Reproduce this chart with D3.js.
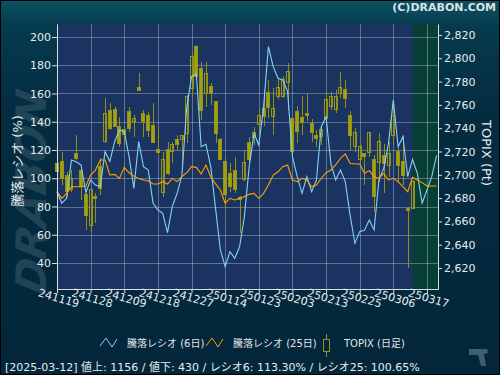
<!DOCTYPE html>
<html>
<head>
<meta charset="utf-8">
<script src="https://cdn.jsdelivr.net/npm/d3@7"></script>
<style>
  body { margin: 0; background: #03263a; }
  svg text { font-family: "DejaVu Sans", "Noto Sans CJK JP", sans-serif; }
</style>
</head>
<body>
<div id="chart"></div>
<script>
// trading days (yymmdd)
const dates = ['241119','241120','241121','241122','241125','241126','241127','241128','241129',
  '241202','241203','241204','241205','241206','241209','241210','241211','241212','241213',
  '241216','241217','241218','241219','241220','241223','241224','241225','241226','241227','241230',
  '250106','250107','250108','250109','250110','250114','250115','250116','250117',
  '250120','250121','250122','250123','250124','250127','250128','250129','250130','250131',
  '250203','250204','250205','250206','250207','250210','250212','250213','250214',
  '250217','250218','250219','250220','250221','250225','250226','250227','250228',
  '250303','250304','250305','250306','250307','250310','250311','250312','250313','250314',
  '250317','250318','250319']

// 騰落レシオ 6日 (%)
const ratio6 = [90.5,82.3,85.8,112.9,111.7,109.4,90,98.8,95.2,94,
  118.8,112,125.9,134.2,133,115.3,92.8,125.9,108.2,105.8,
  82.3,77.6,75.2,61.5,80,89.3,102,150,172,174,
  122.3,124,108.2,78.7,49.2,37.4,48,43.3,51.5,72.8,
  108.2,131.8,123.5,150.7,193.2,179,170.8,169.6,161.3,115.3,
  101.1,89.3,101.1,90.5,98.8,136.5,143.6,110.6,98.8,105.8,
  97.6,74,53.9,62.2,63.4,70.4,63.4,98.8,107,124.7,
  155.4,122.3,129.4,101.1,113.3,103.5,82.3,91.7,101.1,116]

// 騰落レシオ 25日 (%)
const ratio25 = [90.5,85.8,89.3,94,94,94,94.5,102.3,105.8,112.9,
  112.9,102.3,102.7,99.9,107.7,103.9,101.5,99.9,98.8,98,
  95.9,95.9,97.6,95.9,99.9,97.6,101.1,104,108.2,107.7,
  103,109.4,101.1,96,91.7,82.3,85.8,84.6,85.8,87,
  88.6,89.3,85.8,89.3,95.2,102.3,104.6,108.2,109.4,98.8,
  97.6,100,98.8,94,95.2,100,103.9,105.8,109.4,114.1,
  117.2,110.6,110.1,110.1,103.5,105.4,101.1,100,103.5,98.8,
  100,97.6,94,90.5,100.65,98.8,96.9,94.5,94.5,94.5]

// TOPIX daily OHLC (Pt)
const topixOpen = [2709.8,2711.3,2699.8,2687.0,2717.9,2704.1,2683.5,2656.9,2681.8,2707.0,
  2728.4,2755.6,2756.2,2741.3,2738.5,2754.2,2745.6,2775.1,2752.2,2751.3,
  2741.9,2721.9,2684.7,2721.9,2719.9,2730.7,2730.4,2735.6,2774.2,2810.0,
  2791.4,2769.9,2775.6,2762.8,2730.4,2711.3,2701.3,2704.1,2680.7,2695.6,
  2727.6,2732.2,2742.8,2757.1,2770.8,2749.9,2767.1,2767.1,2779.1,2748.5,
  2754.2,2749.3,2752.8,2743.6,2733.3,2732.7,2748.5,2758.5,2756.2,2769.9,
  2772.8,2751.3,2724.2,2713.3,2717.9,2719.0,2712.7,2710.4,2716.2,2708.4,
  2733.3,2719.9,2711.3,2671.2,2671.2]
const topixHigh = [2715.6,2719.9,2702.7,2704.1,2734.2,2707.0,2684.1,2687.0,2684.1,2714.1,
  2765.6,2761.3,2758.5,2749.9,2741.3,2758.5,2751.3,2787.1,2755.6,2754.2,
  2761.3,2741.3,2719.9,2728.4,2728.4,2734.2,2734.2,2768.5,2804.8,2811.4,
  2797.1,2797.1,2778.5,2763.6,2731.3,2715.6,2709.9,2715.6,2681.8,2721.3,
  2732.2,2741.3,2757.1,2772.8,2781.4,2774.2,2781.9,2784.8,2795.7,2749.3,
  2759.1,2767.6,2769.4,2747.6,2738.5,2740.8,2771.4,2771.4,2772.8,2788.5,
  2781.4,2754.8,2739.9,2727.6,2718.4,2737.0,2717.0,2735.6,2726.4,2728.4,
  2759.9,2722.7,2734.2,2672.6,2695.6]
const topixLow = [2695.5,2691.3,2681.2,2685.5,2712.7,2678.4,2652.6,2651.2,2658.3,2682.7,
  2727.0,2738.5,2741.3,2724.1,2725.6,2737.0,2732.7,2772.5,2732.7,2732.7,
  2727.0,2718.4,2681.2,2699.8,2709.8,2721.3,2707.0,2727.0,2767.1,2781.4,
  2747.1,2758.5,2759.9,2727.0,2712.7,2669.8,2685.5,2684.1,2649.8,2695.0,
  2711.3,2725.6,2735.6,2741.9,2748.5,2734.2,2764.8,2765.6,2755.6,2719.0,
  2727.0,2734.2,2746.5,2728.5,2724.2,2725.6,2741.3,2755.6,2752.8,2765.6,
  2757.1,2721.3,2719.9,2709.9,2691.3,2715.6,2668.4,2694.1,2684.1,2698.4,
  2725.6,2692.7,2691.3,2619.7,2671.2]
const topixClose = [2702.7,2697.0,2685.5,2697.0,2714.1,2689.8,2665.5,2687.0,2679.8,2688.4,
  2752.8,2739.9,2741.3,2727.0,2734.2,2739.9,2748.5,2772.5,2745.6,2737.9,
  2727.6,2719.0,2713.3,2701.3,2726.2,2726.4,2733.3,2767.1,2801.4,2784.2,
  2755.6,2787.1,2769.9,2735.6,2713.3,2682.7,2689.8,2687.0,2678.4,2710.4,
  2713.3,2736.2,2751.3,2749.9,2757.9,2756.5,2775.1,2781.4,2788.5,2719.9,
  2737.0,2744.8,2751.3,2736.2,2731.3,2739.0,2764.8,2767.6,2767.1,2775.1,
  2765.6,2733.3,2736.7,2724.7,2715.6,2736.2,2681.3,2729.0,2709.9,2717.9,
  2751.3,2708.4,2699.8,2669.2,2694.1]

const leftTicks = [40, 60, 80, 100, 120, 140, 160, 180, 200]
const rightTicks = [2620, 2640, 2660, 2680, 2700, 2720, 2740, 2760, 2780, 2800, 2820]
const tickEvery = 7
const selectedDate = '250312'
const footerText = '[2025-03-12]  値上: 1156 / 値下: 430 / レシオ6: 113.30% / レシオ25: 100.65%'

// Dimensions
const width = 500, height = 375
const plot = { left: 57, right: 438, top: 24, bottom: 289 }

const svg = d3.select('#chart').append('svg')
  .attr('width', width).attr('height', height)

const defs = svg.append('defs')
const bg = defs.append('linearGradient').attr('id', 'bg')
  .attr('x1', 0).attr('y1', 0).attr('x2', 0).attr('y2', 1)
bg.append('stop').attr('offset', 0).attr('stop-color', '#0c5262')
bg.append('stop').attr('offset', 0.07).attr('stop-color', '#063a4e')
bg.append('stop').attr('offset', 0.3).attr('stop-color', '#042c41')
bg.append('stop').attr('offset', 1).attr('stop-color', '#03263a')

svg.append('rect').attr('x', 0.5).attr('y', 0.5)
  .attr('width', width - 1).attr('height', height - 1)
  .attr('fill', 'url(#bg)').attr('stroke', '#000')

// watermark
svg.append('text')
  .attr('transform', 'translate(46,195) rotate(-90) skewX(-12)')
  .attr('text-anchor', 'middle')
  .style('font-size', '42px').style('font-weight', 'bold').style('font-style', 'italic')
  .attr('fill', '#244858').attr('opacity', 0.9)
  .text('DRABON')

// Scales
const x = d3.scaleLinear().domain([0, 79.3]).range([plot.left, plot.right])
const yL = d3.scaleLinear().domain([21.6, 209.2]).range([plot.bottom, plot.top])
const yR = d3.scaleLinear().domain([2602, 2829.4]).range([plot.bottom, plot.top])

// plot background
svg.append('rect')
  .attr('x', plot.left).attr('y', plot.top)
  .attr('width', plot.right - plot.left).attr('height', plot.bottom - plot.top)
  .attr('fill', '#1b3360')

const selIdx = dates.indexOf(selectedDate)
svg.append('rect')
  .attr('x', x(selIdx)).attr('y', plot.top)
  .attr('width', plot.right - x(selIdx)).attr('height', plot.bottom - plot.top)
  .attr('fill', '#073f35')

// grid
const tickIdx = d3.range(0, dates.length, tickEvery)
const grid = svg.append('g').attr('shape-rendering', 'crispEdges')
  .attr('stroke', '#ffffff').attr('stroke-opacity', 0.3)
grid.selectAll('.h').data(leftTicks).join('line')
  .attr('x1', plot.left).attr('x2', plot.right)
  .attr('y1', d => Math.round(yL(d)) + 0.5).attr('y2', d => Math.round(yL(d)) + 0.5)
grid.selectAll('.v').data(tickIdx).join('line')
  .attr('x1', d => Math.round(x(d)) + 0.5).attr('x2', d => Math.round(x(d)) + 0.5)
  .attr('y1', plot.top).attr('y2', plot.bottom)

// candles
const candles = topixOpen.map((o, i) => ({
  i, o, h: topixHigh[i], l: topixLow[i], c: topixClose[i]
}))
const candleG = svg.append('g').attr('shape-rendering', 'crispEdges')
candleG.selectAll('line').data(candles).join('line')
  .attr('x1', d => Math.round(x(d.i)) + 0.5).attr('x2', d => Math.round(x(d.i)) + 0.5)
  .attr('y1', d => yR(d.h)).attr('y2', d => yR(d.l))
  .attr('stroke', '#8f8f14')
candleG.selectAll('rect').data(candles).join('rect')
  .attr('x', d => Math.round(x(d.i)) - 1.5)
  .attr('y', d => yR(Math.max(d.o, d.c)))
  .attr('width', 3)
  .attr('height', d => Math.max(1, Math.abs(yR(d.o) - yR(d.c))))
  .attr('fill', d => d.c < d.o ? '#a2a20e' : '#1b3360')
  .attr('fill-opacity', d => d.c < d.o ? 1 : 0)
  .attr('stroke', '#94941a')

// lines
const line6 = d3.line().x((d, i) => x(i)).y(d => yL(d))
svg.append('path').datum(ratio6)
  .attr('d', line6).attr('fill', 'none')
  .attr('stroke', '#84d2f2').attr('stroke-width', 1.1)
svg.append('path').datum(ratio25)
  .attr('d', line6).attr('fill', 'none')
  .attr('stroke', '#ffa000').attr('stroke-width', 1.1)

// Axes
const axisColor = '#d6dde4'
const styleAxis = g => {
  g.select('.domain').attr('stroke', axisColor)
  g.selectAll('.tick line').attr('stroke', axisColor)
  g.selectAll('.tick text').attr('fill', '#e6ecf0').style('font-size', '11px')
}
svg.append('g').attr('transform', `translate(${plot.left},0)`)
  .call(d3.axisLeft(yL).tickValues(leftTicks).tickSize(5).tickSizeOuter(0).tickPadding(1))
  .call(styleAxis)
svg.append('g').attr('transform', `translate(${plot.right},0)`)
  .call(d3.axisRight(yR).tickValues(rightTicks).tickFormat(d3.format(',')).tickSize(4).tickSizeOuter(0).tickPadding(2))
  .call(styleAxis)
svg.append('g').attr('transform', `translate(0,${plot.bottom})`)
  .call(d3.axisBottom(x).tickValues(tickIdx).tickFormat(i => dates[i]).tickSize(4).tickSizeOuter(0))
  .call(styleAxis)
  .call(g => g.selectAll('.tick text')
    .attr('y', 0).attr('dy', 0)
    .attr('text-anchor', 'middle').attr('dominant-baseline', 'middle')
    .attr('transform', 'translate(1,10) rotate(16)'))

// axis titles
svg.append('text')
  .attr('transform', 'translate(22,161) rotate(-90)')
  .attr('text-anchor', 'middle').attr('fill', '#e6ecf0')
  .style('font-size', '13px').text('騰落レシオ (%)')
svg.append('text')
  .attr('transform', 'translate(482,153) rotate(90)')
  .attr('text-anchor', 'middle').attr('fill', '#e6ecf0')
  .style('font-size', '13px').text('TOPIX (Pt)')

// copyright
svg.append('text').attr('x', 496).attr('y', 11)
  .attr('text-anchor', 'end').attr('fill', '#d8e2e8')
  .style('font-size', '11px').style('font-weight', 'bold')
  .text('(C)DRABON.COM')

// legend
const legend = svg.append('g').style('font-size', '10px')
const zig = [[0, 8], [6, 0], [12, 9], [17, 1]]
const legendItems = [
  { label: '騰落レシオ (6日)', color: '#84d2f2', x: 100 },
  { label: '騰落レシオ (25日)', color: '#ffa000', x: 206 },
]
legendItems.forEach(it => {
  legend.append('path')
    .attr('d', d3.line()(zig.map(p => [it.x + p[0], 338 + p[1]])))
    .attr('fill', 'none').attr('stroke', it.color)
  legend.append('text').attr('x', it.x + 27).attr('y', 347)
    .attr('fill', '#e0e6ea').text(it.label)
})
legend.append('line').attr('x1', 326.5).attr('x2', 326.5).attr('y1', 334).attr('y2', 357)
  .attr('stroke', '#94941a')
legend.append('rect').attr('x', 323.5).attr('y', 339.5).attr('width', 6).attr('height', 12)
  .attr('fill', '#03263a').attr('stroke', '#94941a')
legend.append('text').attr('x', 344).attr('y', 347)
  .attr('fill', '#e0e6ea').text('TOPIX (日足)')

// footer
svg.append('text').attr('x', 5).attr('y', 371)
  .attr('fill', '#e6ecf0').style('font-size', '11px')
  .text(footerText)

// corner icon
svg.append('path')
  .attr('d', 'M469,349 L487,349 L488,353 L484,354 L486,366 L481,366 L478,355 L469,355 Z')
  .attr('fill', '#3f5f6e')
</script>
</body>
</html>
